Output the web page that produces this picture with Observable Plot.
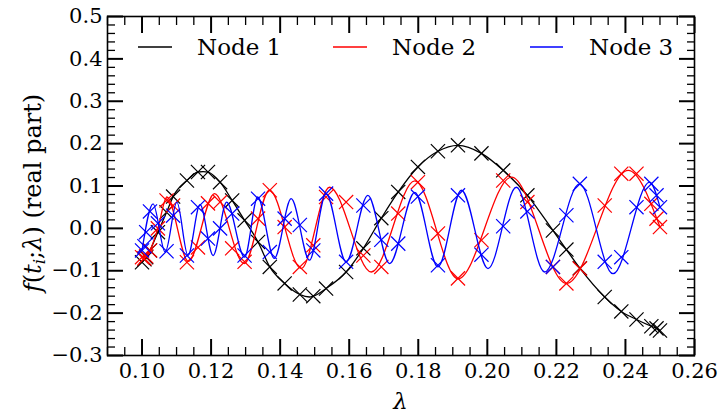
<!DOCTYPE html>
<html>
<head>
<meta charset="utf-8">
<script src="https://cdn.jsdelivr.net/npm/d3@7"></script>
<script src="https://cdn.jsdelivr.net/npm/@observablehq/plot@0.6"></script>
<style>
  html, body { margin: 0; padding: 0; background: #fff; }
  #chart { width: 724px; height: 413px; }
</style>
</head>
<body>
<div id="chart"></div>
<script>
// ---- sample points (λ) shared by all nodes ----
const lambda = [0.1000, 0.1007, 0.1012, 0.1023, 0.1046, 0.1071, 0.1090, 0.1130, 0.1162, 0.1191,
  0.1226, 0.1261, 0.1297, 0.1336, 0.1370, 0.1413, 0.1457, 0.1496, 0.1533, 0.1591,
  0.1641, 0.1693, 0.1742, 0.1799, 0.1857, 0.1915, 0.1983, 0.2046, 0.2116, 0.2190,
  0.2229, 0.2268, 0.2340, 0.2388, 0.2432, 0.2475, 0.2490, 0.2500];

// ---- marker values (real part) ----
const node1 = [-0.080, -0.073, -0.068, -0.052, -0.009, 0.038, 0.075, 0.113, 0.133, 0.133,
  0.109, 0.066, 0.019, -0.032, -0.091, -0.130, -0.156, -0.160, -0.142, -0.103,
  -0.047, 0.024, 0.086, 0.145, 0.182, 0.196, 0.177, 0.137, 0.078, -0.005,
  -0.050, -0.094, -0.162, -0.196, -0.215, -0.231, -0.236, -0.241];
const node2 = [-0.068, -0.071, -0.066, -0.052, 0.000, 0.066, 0.054, -0.080, -0.045, 0.059,
  0.062, -0.047, -0.079, 0.023, 0.090, 0.003, -0.091, -0.040, 0.074, 0.062,
  -0.064, -0.091, 0.035, 0.109, -0.012, -0.118, -0.028, 0.113, 0.062, -0.091,
  -0.130, -0.095, 0.054, 0.129, 0.129, 0.058, 0.023, 0.003];
const node3 = [-0.052, -0.042, -0.009, 0.040, 0.012, -0.054, 0.030, -0.064, 0.050, -0.024,
  0.000, 0.035, -0.064, 0.070, -0.056, 0.023, 0.008, -0.052, 0.082, -0.079,
  0.054, -0.027, -0.036, 0.075, -0.087, 0.078, -0.062, 0.005, 0.040, -0.091,
  0.031, 0.105, -0.079, -0.068, 0.050, 0.105, 0.078, 0.050];

// ---- curve turning points ----
const node1CurveX = [0.1177, 0.1485, 0.1915];
const node1CurveY = [0.134, -0.162, 0.196];
const node2CurveX = [0.1000, 0.1012, 0.1023, 0.1046, 0.1072, 0.1134, 0.1210, 0.1296, 0.1369, 0.1461,
  0.1543, 0.1664, 0.1790, 0.1915, 0.2070, 0.2229, 0.2408, 0.2500];
const node2CurveY = [-0.070, -0.066, -0.052, 0.000, 0.074, -0.078, 0.082, -0.083, 0.090, -0.095,
  0.097, -0.103, 0.112, -0.119, 0.121, -0.130, 0.137, 0.003];
const node3CurveX = [0.1000, 0.1032, 0.1067, 0.1101, 0.1133, 0.1168, 0.1206, 0.1245, 0.1297, 0.1335,
  0.1383, 0.1432, 0.1485, 0.1533, 0.1591, 0.1654, 0.1717, 0.1790, 0.1857, 0.1925,
  0.2002, 0.2084, 0.2166, 0.2267, 0.2364, 0.2470, 0.2500];
const node3CurveY = [-0.052, 0.058, -0.056, 0.062, -0.064, 0.056, -0.064, 0.062, -0.068, 0.074,
  -0.071, 0.070, -0.075, 0.082, -0.079, 0.078, -0.083, 0.085, -0.091, 0.090,
  -0.095, 0.097, -0.103, 0.105, -0.107, 0.109, 0.050];

const seriesNames = ["Node 1", "Node 2", "Node 3"];
const seriesColors = ["#000000", "#ff0000", "#0000ff"];

// ---- axis ticks ----
const xMajorTicks = [0.10, 0.12, 0.14, 0.16, 0.18, 0.20, 0.22, 0.24, 0.26];
const xTickLabels = ["0.10", "0.12", "0.14", "0.16", "0.18", "0.20", "0.22", "0.24", "0.26"];
const xMinorTicks = [0.09, 0.095, 0.105, 0.11, 0.115, 0.125, 0.13, 0.135, 0.145, 0.15, 0.155,
  0.165, 0.17, 0.175, 0.185, 0.19, 0.195, 0.205, 0.21, 0.215, 0.225, 0.23, 0.235, 0.245, 0.25, 0.255];
const yMajorTicks = [-0.3, -0.2, -0.1, 0.0, 0.1, 0.2, 0.3, 0.4, 0.5];
const yTickLabels = ["\u22120.3", "\u22120.2", "\u22120.1", "0.0", "0.1", "0.2", "0.3", "0.4", "0.5"];
const yMinorTicks = [-0.28, -0.26, -0.24, -0.22, -0.18, -0.16, -0.14, -0.12, -0.08, -0.06, -0.04, -0.02,
  0.02, 0.04, 0.06, 0.08, 0.12, 0.14, 0.16, 0.18, 0.22, 0.24, 0.26, 0.28, 0.32, 0.34, 0.36, 0.38,
  0.42, 0.44, 0.46, 0.48];

// ---- build tables ----
const markerValues = [node1, node2, node3];
const markers = [];
markerValues.forEach((vals, s) => vals.forEach((v, i) => markers.push({lambda: lambda[i], value: v, node: seriesNames[s]})));

const curveXs = [node1CurveX, node2CurveX, node3CurveX];
const curveYs = [node1CurveY, node2CurveY, node3CurveY];
const curves = curveXs.map((xs, s) => xs.map((x, i) => ({lambda: x, value: curveYs[s][i], node: seriesNames[s]})));
// node 1 is slow: its line passes through its markers as well
curves[0] = curves[0].concat(lambda.map((x, i) => ({lambda: x, value: node1[i], node: seriesNames[0]})))
  .sort((a, b) => a.lambda - b.lambda);

const xLabelMap = new Map(xMajorTicks.map((t, i) => [t, xTickLabels[i]]));
const yLabelMap = new Map(yMajorTicks.map((t, i) => [t, yTickLabels[i]]));

const FONT = "DejaVu Serif";
const marks = [];
seriesNames.forEach((name, s) => {
  marks.push(Plot.line(curves[s], {x: "lambda", y: "value", stroke: seriesColors[s], strokeWidth: 1.3, curve: "monotone-x"}));
  marks.push(Plot.dot(markers.filter(d => d.node === name), {x: "lambda", y: "value", symbol: "times", r: 6.5, stroke: seriesColors[s], fill: "none", strokeWidth: 1.2}));
});
marks.push(
  Plot.axisX(xMajorTicks, {anchor: "bottom", tickSize: -16, strokeWidth: 2, tickFormat: () => "", label: null}),
  Plot.axisX(xMajorTicks, {anchor: "top", tickSize: -16, strokeWidth: 2, tickFormat: () => "", label: null}),
  Plot.axisX(xMinorTicks, {anchor: "bottom", tickSize: -8, strokeWidth: 1.3, tickFormat: () => "", label: null}),
  Plot.axisX(xMinorTicks, {anchor: "top", tickSize: -8, strokeWidth: 1.3, tickFormat: () => "", label: null}),
  Plot.axisY(yMajorTicks, {anchor: "left", tickSize: -16, strokeWidth: 2, tickFormat: () => "", label: null}),
  Plot.axisY(yMajorTicks, {anchor: "right", tickSize: -16, strokeWidth: 2, tickFormat: () => "", label: null}),
  Plot.axisY(yMinorTicks, {anchor: "left", tickSize: -8, strokeWidth: 1.3, tickFormat: () => "", label: null}),
  Plot.axisY(yMinorTicks, {anchor: "right", tickSize: -8, strokeWidth: 1.3, tickFormat: () => "", label: null}),
  Plot.axisX(xMajorTicks, {anchor: "bottom", tickSize: 0, tickPadding: 8, tickFormat: d => xLabelMap.get(d), label: null, fontSize: 21}),
  Plot.axisY(yMajorTicks, {anchor: "left", tickSize: 0, tickPadding: 5, tickFormat: d => yLabelMap.get(d), label: null, fontSize: 21}),
  Plot.frame({stroke: "#000", strokeWidth: 1.6})
);

const plot = Plot.plot({
  width: 724,
  height: 413,
  marginLeft: 107,
  marginRight: 30,
  marginTop: 16,
  marginBottom: 58,
  x: {domain: [0.09, 0.26]},
  y: {domain: [-0.3, 0.5]},
  style: {fontFamily: FONT, fontSize: "21px", color: "#000", background: "#fff", overflow: "visible"},
  marks
});

const svg = d3.select(plot);

// x label
svg.append("text")
  .attr("x", 400.5).attr("y", 409)
  .attr("text-anchor", "middle")
  .attr("font-family", FONT).attr("font-size", 23).attr("font-style", "italic")
  .text("λ");

// y label: f(t_i;λ) (real part)
const yl = svg.append("text")
  .attr("transform", "translate(41,193) rotate(-90)")
  .attr("text-anchor", "middle")
  .attr("font-family", FONT).attr("font-size", 24);
yl.append("tspan").attr("font-style", "italic").text("f");
yl.append("tspan").text("(");
yl.append("tspan").attr("font-style", "italic").text("t");
yl.append("tspan").attr("font-style", "italic").attr("font-size", 17).attr("dy", 4).text("i");
yl.append("tspan").attr("dy", -4).text(";");
yl.append("tspan").attr("font-style", "italic").text("λ");
yl.append("tspan").text(") (real part)");

// legend
const legendLineX = [[138, 172], [333, 367], [530, 563]];
const legendTextX = [197, 392, 589];
seriesNames.forEach((name, s) => {
  svg.append("line")
    .attr("x1", legendLineX[s][0]).attr("x2", legendLineX[s][1])
    .attr("y1", 47).attr("y2", 47)
    .attr("stroke", seriesColors[s]).attr("stroke-width", 1.3);
  svg.append("text")
    .attr("x", legendTextX[s]).attr("y", 55)
    .attr("text-anchor", "start")
    .attr("font-family", FONT).attr("font-size", 23)
    .text(name);
});

document.getElementById("chart").appendChild(plot);
</script>
</body>
</html>
